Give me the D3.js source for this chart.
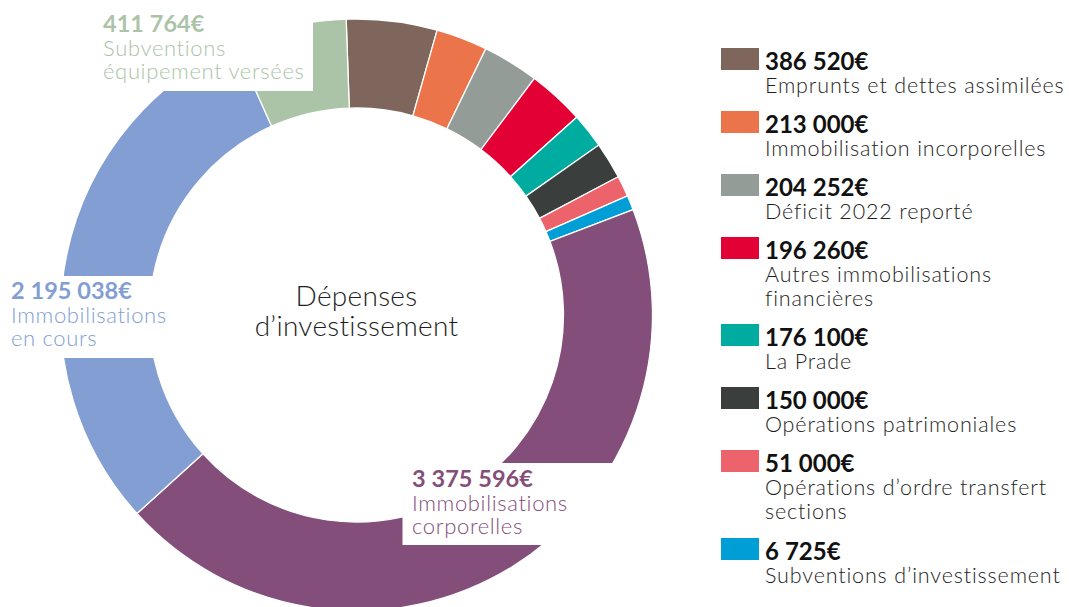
<!DOCTYPE html>
<html>
<head>
<meta charset="utf-8">
<script src="https://cdn.jsdelivr.net/npm/d3@7"></script>
<style>
  html, body { margin: 0; padding: 0; background: #fff; }
  svg { display: block; }
  text { font-family: Lato, "Open Sans", "Noto Sans", sans-serif; }
</style>
</head>
<body>
<svg id="chart" width="1069" height="607"></svg>
<script>
// ---- data ----
const categories = [
  "Emprunts et dettes assimilées",
  "Immobilisation incorporelles",
  "Déficit 2022 reporté",
  "Autres immobilisations financières",
  "La Prade",
  "Opérations patrimoniales",
  "Opérations d’ordre transfert sections",
  "Subventions d’investissement",
  "Immobilisations corporelles",
  "Immobilisations en cours",
  "Subventions équipement versées"
];
const amounts = [386520, 213000, 204252, 196260, 176100, 150000, 51000, 6725, 3375596, 2195038, 411764];
// slice sizes as drawn in the picture (degrees of the ring)
const drawnShares = [17.8, 10.1, 11.05, 11.1, 6.9, 7.2, 4.1, 2.9, 158.7, 107.9, 22.2];
const colors = ["#7f665c", "#ec744a", "#949c98", "#e30034", "#00ab9f", "#3a3f3d", "#ec636b", "#009ed6", "#844e7b", "#829ed3", "#abc4a8"];
// legend description lines
const legendLines = [
  ["Emprunts et dettes assimilées"],
  ["Immobilisation incorporelles"],
  ["Déficit 2022 reporté"],
  ["Autres immobilisations", "financières"],
  ["La Prade"],
  ["Opérations patrimoniales"],
  ["Opérations d’ordre transfert", "sections"],
  ["Subventions d’investissement"]
];
// labels drawn on the ring
const ringLabelIndex = [10, 9, 8];
const ringLabelLines = [
  ["Subventions", "équipement versées"],
  ["Immobilisations", "en cours"],
  ["Immobilisations", "corporelles"]
];
const centerTitle = ["Dépenses", "d’investissement"];

// ---- chart ----
const svg = d3.select("#chart");
const fmt = d3.formatLocale({decimal: ",", thousands: "\u202F", grouping: [3], currency: ["", "€"]}).format(",d");
const money = v => fmt(v) + "€";

const cx = 356.5, cy = 315, rOuter = 296, rInner = 207;
const deg = Math.PI / 180;

const pie = d3.pie()
  .sort(null)
  .value((d, i) => drawnShares[i])
  .startAngle(-2 * deg)
  .endAngle(358 * deg);

const arc = d3.arc().innerRadius(rInner).outerRadius(rOuter);
const arcs = pie(categories);

const g = svg.append("g").attr("transform", `translate(${cx},${cy})`);
g.selectAll("path.slice")
  .data(arcs)
  .join("path")
  .attr("class", "slice")
  .attr("d", arc)
  .attr("fill", (d, i) => colors[i])
  .attr("stroke", "#fff")
  .attr("stroke-width", 1.3);

// centre title
g.selectAll("text.title")
  .data(centerTitle)
  .join("text")
  .attr("class", "title")
  .attr("x", 0)
  .attr("y", (d, i) => -9 + i * 30)
  .attr("text-anchor", "middle")
  .attr("font-size", 28)
  .attr("font-weight", 300)
  .attr("letter-spacing", 0.3)
  .attr("fill", "#1e1e1e")
  .text(d => d);

// ring labels with white boxes
const boxes = [
  {x: 0, y: 0, w: 313, h: 91, tx: 103, ty: 32},
  {x: 0, y: 276, w: 175, h: 82, tx: 11, ty: 299},
  {x: 402.5, y: 463, w: 260, h: 82, tx: 412, ty: 487}
];
ringLabelIndex.forEach((idx, k) => {
  const b = boxes[k];
  svg.append("rect").attr("x", b.x).attr("y", b.y).attr("width", b.w).attr("height", b.h).attr("fill", "#fff");
  svg.append("text")
    .attr("x", b.tx).attr("y", b.ty)
    .attr("font-size", 23.5).attr("font-weight", 700)
    .attr("letter-spacing", 4.2)
    .attr("fill", colors[idx])
    .text(money(amounts[idx]));
  ringLabelLines[k].forEach((line, j) => {
    svg.append("text")
      .attr("x", b.tx).attr("y", b.ty + 24 + j * 22.5)
      .attr("font-size", 22).attr("font-weight", 300)
      .attr("letter-spacing", 0.65)
      .attr("fill", colors[idx])
      .text(line);
  });
});

// legend
const legendTops = [48, 111, 174, 237, 324, 387, 450, 538];
const lg = svg.append("g");
legendLines.forEach((lines, i) => {
  const top = legendTops[i];
  lg.append("rect").attr("x", 721).attr("y", top).attr("width", 38).attr("height", 22).attr("fill", colors[i]);
  lg.append("text")
    .attr("x", 765).attr("y", top + 21.5)
    .attr("font-size", 24).attr("font-weight", 700)
    .attr("letter-spacing", 4.2)
    .attr("fill", "#111")
    .text(money(amounts[i]));
  lines.forEach((line, j) => {
    lg.append("text")
      .attr("x", 765).attr("y", top + 45 + j * 23.5)
      .attr("font-size", 21.5).attr("font-weight", 300)
      .attr("letter-spacing", 0.85)
      .attr("fill", "#1e1e1e")
      .text(line);
  });
});
</script>
</body>
</html>
